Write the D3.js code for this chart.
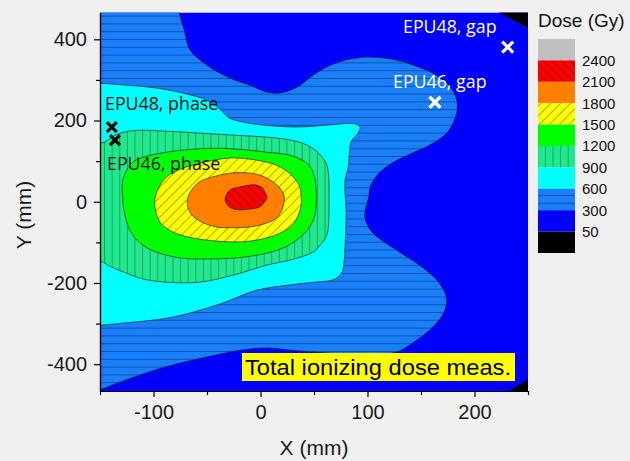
<!DOCTYPE html>
<html>
<head>
<meta charset="utf-8">
<script src="https://cdn.jsdelivr.net/npm/d3@7"></script>
<style>
  body { margin: 0; background: #f0f0f0; }
  svg { display: block; }
</style>
</head>
<body>
<div id="vis"></div>
<script>
// ----- DATA (in mm) ----- //
// contour lines, each one is the border of the region where dose >= level
// open lines run out of the plot and get closed by the "out" points

const line300 = [[-80, 540], [-76, 466], [-71, 420], [-66, 374], [-50, 336], [-29, 305], [-10, 287], [6, 270],
  [18, 268], [34, 282], [52, 317], [71, 342], [90, 354], [105, 356], [125, 350], [142, 337], [160, 318],
  [174, 292], [182, 262], [184, 233], [181, 200], [174, 169], [160, 142], [142, 120], [124, 97], [111, 71],
  [103, 40], [101, 10], [98, -20], [98, -45], [105, -77], [127, -119], [151, -161], [167, -200], [174, -242],
  [170, -279], [158, -316], [142, -348], [127, -370], [95, -376], [60, -372], [27, -365], [6, -360],
  [-20, -366], [-50, -382], [-75, -397], [-97, -413], [-125, -438], [-150, -463], [-175, -495]];
const out300 = [[-260, -495], [-260, 540]];

const line600 = [[-175, 295], [-150, 292], [-125, 287], [-97, 280], [-70, 266], [-50, 250], [-38, 228],
  [-29, 206], [-14, 195], [2, 189], [34, 184], [64, 189], [88, 192], [93, 184], [90, 165], [85, 150],
  [83, 120], [82, 85], [79, 53], [80, -28], [79, -111], [78, -150], [76, -175], [68, -192], [50, -198],
  [27, -205], [-4, -218], [-36, -250], [-82, -284], [-129, -299], [-150, -304], [-175, -306]];
const out600 = [[-260, -306], [-260, 295]];

const line900 = [[-175, 145], [-148, 145], [-135, 165], [-120, 175], [-90, 174], [-57, 169], [-25, 164],
  [6, 159], [28, 152], [43, 140], [55, 118], [62, 90], [64, 50], [64, 17], [64, -30], [62, -82],
  [56, -106], [49, -124], [30, -142], [6, -156], [-26, -181], [-57, -198], [-88, -198], [-110, -190],
  [-125, -176], [-140, -160], [-150, -146], [-175, -140]];
const out900 = [[-260, -140], [-260, 145]];

const line1200 = [[-129, 49], [-125, 78], [-118, 100], [-105, 113], [-88, 122], [-65, 129], [-41, 132],
  [-15, 128], [6, 122], [25, 116], [38, 104], [46, 88], [50, 66], [52, 30], [52, -8], [50, -40],
  [45, -65], [35, -92], [21, -114], [0, -130], [-26, -139], [-50, -141], [-73, -139], [-95, -126],
  [-110, -107], [-120, -80], [-125, -50], [-128, -15], [-129, 17]];

const line1500 = [[-99, -1], [-96, 30], [-88, 61], [-73, 82], [-57, 95], [-40, 104], [-26, 108], [-5, 103],
  [15, 90], [28, 68], [36, 41], [38, 15], [38, -8], [35, -35], [30, -57], [20, -75], [6, -89], [-10, -97],
  [-26, -99], [-45, -96], [-64, -89], [-78, -79], [-88, -65], [-94, -50], [-97, -33]];

const line1800 = [[-68, 9], [-64, 30], [-57, 49], [-42, 63], [-26, 71], [-12, 71], [-1, 66], [10, 52],
  [18, 34], [22, 15], [22, -1], [20, -20], [15, -40], [5, -53], [-10, -62], [-25, -64], [-41, -62],
  [-55, -50], [-64, -33], [-68, -12]];

const line2100 = [[-32, 17], [-28, 30], [-20, 36], [-10, 41], [-4, 41], [2, 34], [4, 24], [6, 9], [3, -3],
  [-1, -13], [-10, -18], [-20, -20], [-27, -16], [-31, -8], [-33, 5]];

// below 50 Gy, the two corners on the right
const corner50top = [[220, 470], [270, 401], [270, 480]];
const corner50bottom = [[224, -480], [270, -405], [270, -480]];

// measurement points
const phasePoints = [[-139, 184], [-136, 152]];
const gapPoints = [[231, 381], [163, 245]];

// legend
const legendLabels = ["2400", "2100", "1800", "1500", "1200", "900", "600", "300", "50"];
const legendFills = ["#c0c0c0", "red", "orange", "yellow", "green", "lgreen", "cyan", "mblue", "blue", "black"];

const xMajor = [-100, 0, 100, 200];
const xMinor = [-150, -50, 50, 150, 250];
const yMajor = [-400, -200, 0, 200, 400];
const yMinor = [-300, -100, 100, 300];

// ----- SETUP ----- //
const W = 630, H = 461;
const svg = d3.select("#vis").append("svg").attr("width", W).attr("height", H);

const x = d3.scaleLinear().domain([-150, 250]).range([100, 528]);
const y = d3.scaleLinear().domain([-466, 466]).range([391, 12.5]);

const col = {
  red: "#ff0000", orange: "#ff8000", yellow: "#ffff00", green: "#00ff00",
  lgreen: "#20e88c", cyan: "#00ffff", mblue: "#1a7fff", blue: "#0000ff", black: "#000000"
};

const defs = svg.append("defs");
defs.append("clipPath").attr("id", "clip").append("rect")
  .attr("x", x(-150)).attr("y", y(466))
  .attr("width", x(250) - x(-150)).attr("height", y(-466) - y(466));

// hatch patterns
function hatch(id, size, angle, ox, oy, col, op) {
  let p = defs.append("pattern").attr("id", id)
    .attr("patternUnits", "userSpaceOnUse")
    .attr("width", size).attr("height", size)
    .attr("x", ox).attr("y", oy);
  if (angle) p.attr("patternTransform", `rotate(${angle})`);
  p.append("line").attr("x1", 0).attr("y1", 0).attr("x2", 0).attr("y2", size)
    .attr("stroke", col).attr("stroke-opacity", op).attr("stroke-width", 1.1);
}
hatch("hV", 7.8, 90, 0, 13, "#000", 0.65);       // horizontal lines (blue band)
hatch("hVert", 7.6, 0, 111.7, 0, "#0b3d22", 0.7); // vertical lines (light green band)
hatch("hSlash", 7, 45, 0, 0, "#000", 0.6);      // "/" yellow band
hatch("hBack", 6.2, -45, 0, 0, "#000", 0.6);    // "\" red band

const hatchOf = { mblue: "url(#hV)", lgreen: "url(#hVert)", yellow: "url(#hSlash)", red: "url(#hBack)" };

// ----- CONTOURS ----- //
function contourPath(pts, out) {
  let gen = d3.line().x(d => x(d[0])).y(d => y(d[1]));
  if (!out) {
    gen.curve(d3.curveCatmullRomClosed.alpha(0.5));
    return gen(pts);
  }
  gen.curve(d3.curveCatmullRom.alpha(0.5));
  return gen(pts) + out.map(p => `L${x(p[0])},${y(p[1])}`).join("") + "Z";
}

const plot = svg.append("g").attr("clip-path", "url(#clip)");

plot.append("rect")
  .attr("x", x(-150)).attr("y", y(466))
  .attr("width", x(250) - x(-150)).attr("height", y(-466) - y(466))
  .attr("fill", col.blue);

[corner50top, corner50bottom].forEach(c => {
  plot.append("path")
    .attr("d", d3.line().x(d => x(d[0])).y(d => y(d[1]))(c) + "Z")
    .attr("fill", col.black);
});

const layers = [
  { pts: line300, out: out300, fill: "mblue" },
  { pts: line600, out: out600, fill: "cyan" },
  { pts: line900, out: out900, fill: "lgreen" },
  { pts: line1200, out: null, fill: "green" },
  { pts: line1500, out: null, fill: "yellow" },
  { pts: line1800, out: null, fill: "orange" },
  { pts: line2100, out: null, fill: "red" }
];

layers.forEach(l => {
  let d = contourPath(l.pts, l.out);
  plot.append("path").attr("d", d).attr("fill", col[l.fill]);
  if (hatchOf[l.fill]) plot.append("path").attr("d", d).attr("fill", hatchOf[l.fill]);
  plot.append("path").attr("d", d).attr("fill", "none")
    .attr("stroke", "#1a1a1a").attr("stroke-opacity", 0.8).attr("stroke-width", 0.8);
});

// ----- ANNOTATIONS ----- //
function cross(g, p, r, color) {
  g.append("path")
    .attr("d", `M${x(p[0]) - r},${y(p[1]) - r}L${x(p[0]) + r},${y(p[1]) + r}M${x(p[0]) + r},${y(p[1]) - r}L${x(p[0]) - r},${y(p[1]) + r}`)
    .attr("stroke", color).attr("stroke-width", 3.2).attr("fill", "none");
}
phasePoints.forEach(p => cross(svg, p, 5, "#000"));
gapPoints.forEach(p => cross(svg, p, 5.5, "#fff"));

const annoFont = "'Open Sans', 'Noto Sans', sans-serif";
const notes = [
  { t: "EPU48, phase", px: 105, py: 110, c: "#111" },
  { t: "EPU46, phase", px: 107, py: 170, c: "#111" },
  { t: "EPU48, gap", px: 403, py: 33, c: "#fff" },
  { t: "EPU46, gap", px: 393, py: 88, c: "#fff" }
];
svg.selectAll(".note").data(notes).join("text")
  .attr("class", "note")
  .attr("x", d => d.px).attr("y", d => d.py)
  .attr("fill", d => d.c)
  .style("font-family", annoFont).style("font-size", "17.8px")
  .text(d => d.t);

svg.append("rect").attr("x", 242).attr("y", 353).attr("width", 273).attr("height", 28).attr("fill", "#ffff00");
svg.append("text").attr("x", 245).attr("y", 375)
  .attr("textLength", 266).attr("lengthAdjust", "spacingAndGlyphs")
  .style("font-family", "'Liberation Sans', Arial, sans-serif").style("font-size", "22.5px")
  .attr("fill", "#000")
  .text("Total ionizing dose meas.");

// ----- AXES ----- //
const axFont = "'Liberation Sans', Arial, sans-serif";
const fmt = d => String(d);
function styleAxis(g) {
  g.select(".domain").attr("stroke", "#000").attr("stroke-width", 1.2);
  g.selectAll(".tick line").attr("stroke", "#000").attr("stroke-width", 1.2);
  g.selectAll("text").style("font-family", axFont).style("font-size", "20px").attr("fill", "#1a1a1a");
}
const xAxisG = svg.append("g").attr("transform", `translate(0,${y(-466)})`)
  .call(d3.axisBottom(x).tickValues(xMajor).tickFormat(fmt).tickSize(6).tickSizeOuter(0).tickPadding(8));
styleAxis(xAxisG);
const xMinorG = svg.append("g").attr("transform", `translate(0,${y(-466)})`)
  .call(d3.axisBottom(x).tickValues(xMinor).tickSize(4).tickSizeOuter(0).tickFormat(""));
styleAxis(xMinorG);

const yAxisG = svg.append("g").attr("transform", `translate(${x(-150)},0)`)
  .call(d3.axisLeft(y).tickValues(yMajor).tickFormat(fmt).tickSize(6).tickSizeOuter(0).tickPadding(7));
styleAxis(yAxisG);
const yMinorG = svg.append("g").attr("transform", `translate(${x(-150)},0)`)
  .call(d3.axisLeft(y).tickValues(yMinor).tickSize(4).tickSizeOuter(0).tickFormat(""));
styleAxis(yMinorG);

svg.append("text").attr("x", 314).attr("y", 455).attr("text-anchor", "middle")
  .style("font-family", axFont).style("font-size", "21px").attr("fill", "#1a1a1a")
  .text("X (mm)");
svg.append("text").attr("transform", "translate(31,215) rotate(-90)").attr("text-anchor", "middle")
  .style("font-family", axFont).style("font-size", "21px").attr("fill", "#1a1a1a")
  .text("Y (mm)");

// ----- LEGEND ----- //
const lgX = 538, lgY = 39, lgW = 37, lgH = 21.4;
svg.append("text").attr("x", lgX).attr("y", 27)
  .style("font-family", axFont).style("font-size", "19px").attr("fill", "#111")
  .text("Dose (Gy)");

const legend = svg.append("g");
legendFills.forEach((f, i) => {
  legend.append("rect").attr("x", lgX).attr("y", lgY + i * lgH).attr("width", lgW).attr("height", lgH)
    .attr("fill", col[f] || f);
  if (hatchOf[f]) legend.append("rect").attr("x", lgX).attr("y", lgY + i * lgH).attr("width", lgW).attr("height", lgH)
    .attr("fill", hatchOf[f]);
});
legend.selectAll("text").data(legendLabels).join("text")
  .attr("x", lgX + lgW + 7)
  .attr("y", (d, i) => lgY + (i + 1) * lgH)
  .attr("dy", "0.36em")
  .style("font-family", axFont).style("font-size", "15px").attr("fill", "#111")
  .text(d => d);
</script>
</body>
</html>
